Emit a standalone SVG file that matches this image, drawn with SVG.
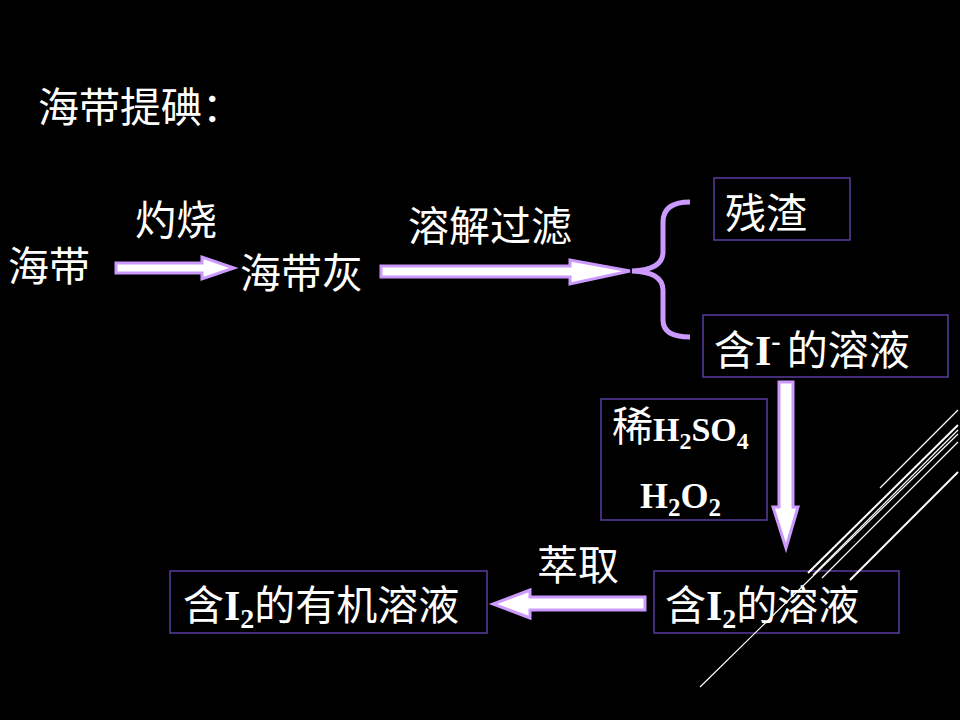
<svg xmlns="http://www.w3.org/2000/svg" width="960" height="720" viewBox="0 0 960 720">
<style>
.t{font-family:"Noto Sans CJK SC","Liberation Serif",serif;font-size:41px;fill:#ffffff}
.b{font-family:"Liberation Serif",serif;font-weight:bold;fill:#ffffff}
.box{fill:none;stroke:#5a3c9e;stroke-width:1.5}
.arr{fill:#ffffff;stroke:#cc99ff;stroke-width:3;stroke-linejoin:miter}
.deco{stroke:#ffffff;fill:none}
</style>
<rect width="960" height="720" fill="#000000"/>
<g id="title"><text class="t" x="38" y="122">海带提碘：</text></g>
<g id="haidai"><text class="t" x="8" y="281">海带</text></g>
<g id="haidaihui"><text class="t" x="240" y="288">海带灰</text></g>
<g id="label-zhuoshao"><text class="t" x="135" y="235">灼烧</text></g>
<g id="label-rongjie"><text class="t" x="408" y="241">溶解过滤</text></g>
<g id="canzha"><rect class="box" x="714" y="178" width="136" height="62"/><text class="t" x="725" y="228">残渣</text></g>
<g id="hanI"><rect class="box" x="703" y="315" width="245" height="62"/><text class="t" x="714" y="365">含<tspan class="b" font-size="42">I</tspan><tspan class="b" font-size="28" dy="-15">-</tspan><tspan dy="15" dx="6">的溶液</tspan></text></g>
<g id="reagent"><rect class="box" x="601" y="399" width="166" height="121"/><text class="t" x="612" y="441" font-size="34">稀<tspan class="b" font-size="34">H</tspan><tspan class="b" font-size="24" dy="8">2</tspan><tspan class="b" font-size="34" dy="-8">SO</tspan><tspan class="b" font-size="24" dy="8">4</tspan></text><text class="b" x="640" y="508" font-size="36">H<tspan font-size="25" dy="8">2</tspan><tspan dy="-8">O</tspan><tspan font-size="25" dy="8">2</tspan></text></g>
<g id="label-cuiqu"><text class="t" x="537" y="580">萃取</text></g>
<g id="hanI2"><rect class="box" x="654" y="571" width="245" height="62"/><text class="t" x="665" y="620">含<tspan class="b" font-size="42">I</tspan><tspan class="b" font-size="28" dy="8">2</tspan><tspan dy="-8">的溶液</tspan></text></g>
<g id="organic"><rect class="box" x="170" y="571" width="317" height="62"/><text class="t" x="183" y="620">含<tspan class="b" font-size="42">I</tspan><tspan class="b" font-size="28" dy="8">2</tspan><tspan dy="-8">的有机溶液</tspan></text></g>
<g id="connectors">
<polygon class="arr" points="116,263 202,263 202,257 234,268 202,279 202,273 116,273"/>
<polygon class="arr" points="381,266 570,266 570,260 630,271 570,284 570,277 381,277"/>
<path d="M690,202 Q663,202 663,222 L663,252 Q663,270 632,271 Q663,272 663,290 L663,320 Q663,337 690,337" fill="none" stroke="#cc99ff" stroke-width="5"/>
<polygon class="arr" points="779,382 793,382 793,507 798,507 786,548 773,507 779,507"/>
<polygon class="arr" points="645,597 530,597 530,590 493,604 530,618 530,610 645,610"/>
</g>
<g id="decoration">
<line class="deco" x1="880" y1="488" x2="958" y2="410" stroke-width="1.2"/>
<line class="deco" x1="808" y1="573" x2="958" y2="425" stroke-width="2"/>
<line class="deco" x1="813" y1="575" x2="958" y2="430" stroke-width="1.2"/>
<line class="deco" x1="700" y1="687" x2="958" y2="434" stroke-width="1.2"/>
<line class="deco" x1="822" y1="578" x2="958" y2="442" stroke-width="1.2"/>
<line class="deco" x1="850" y1="580" x2="958" y2="472" stroke-width="2"/>
</g>
</svg>
